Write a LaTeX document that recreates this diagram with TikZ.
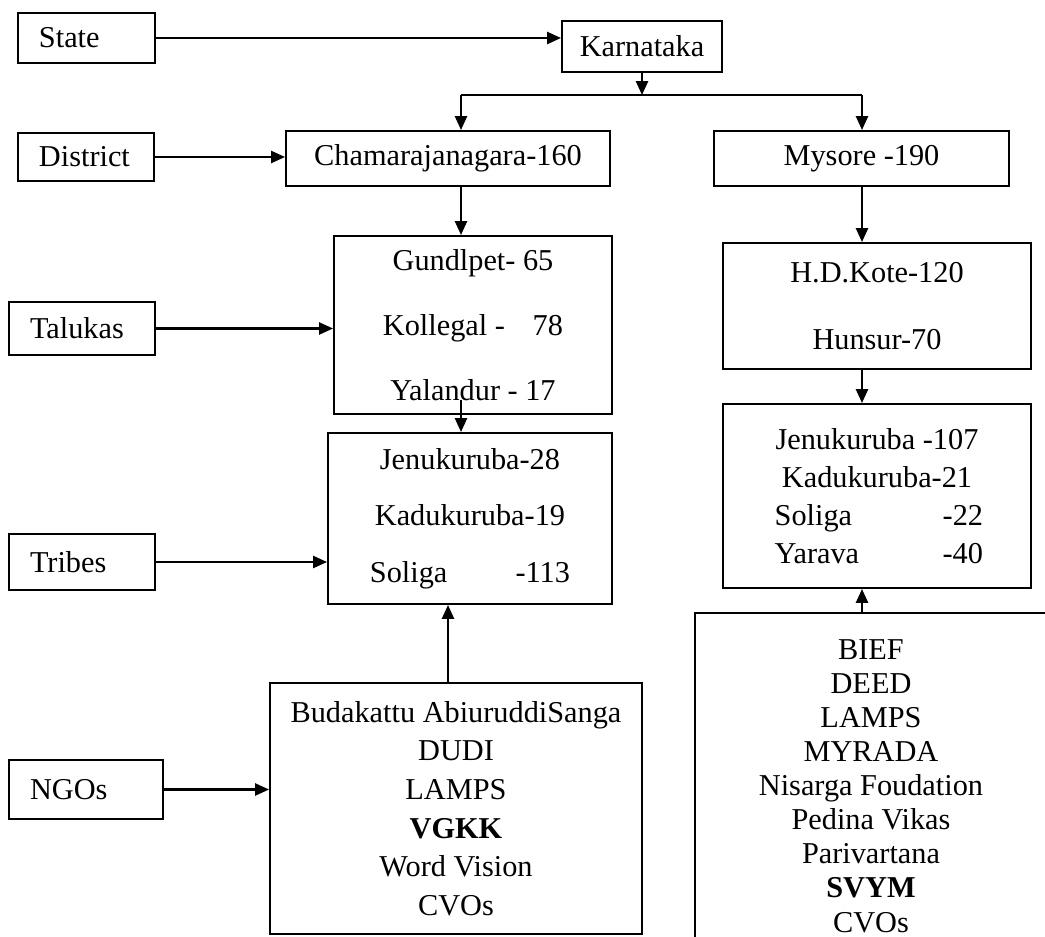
\documentclass[tikz,border=0pt]{standalone}
\usepackage{fontspec}
\setmainfont{Liberation Serif}
\usetikzlibrary{arrows.meta}
\usetikzlibrary{positioning}
\newcommand{\pxw}{0.396pt}
\tikzset{
    blk/.style 2 args={
           rectangle,
           draw=black,
           minimum width=#1*\pxw,
           minimum height=#2*\pxw,
           inner sep=0pt,
           align=center,
           font=\fontsize{12}{13.5}\selectfont,
           },
    lbl/.style 2 args={
           blk={#1}{#2},
           inner xsep=21*\pxw,
           text width=#1*\pxw-42*\pxw,
           align=left,
           },
    spread/.style={font=\fontsize{12}{#1}\selectfont},
    arr/.style={-{Triangle[length=5.5pt,width=4.8pt]}},
}
\begin{document}
\begin{tikzpicture}[x=\pxw,y=-\pxw,line width=0.8pt]
      \clip (0,0) rectangle (1045,937);
      % levels on the left
      \node[lbl={137}{50}] (l_state) at (86.5,38)  {State};
      \node[lbl={136}{48}] (l_dist)  at (86,157)   {District};
      \node[lbl={146}{53}] (l_tal)   at (82,328.5) {Talukas};
      \node[lbl={146}{56}] (l_tri)   at (82,562)   {Tribes};
      \node[lbl={154}{59}] (l_ngo)   at (86,789.5) {NGOs};
      % tree
      \node[blk={160}{51}] (k)    at (642,46.5)  {Karnataka};
      \node[blk={324}{55}] (d_ch) at (448,158.5) {Chamarajanagara-160};
      \node[blk={295}{55}] (d_my) at (861.5,158.5) {Mysore -190};
      \node[blk={278}{178},spread=25.7pt] (t_ch) at (473,325)
            {Gundlpet- 65\\Kollegal - \hspace{8pt}78\\Yalandur - 17};
      \node[blk={308}{126},spread=26.5pt] (t_my) at (877,306)
            {H.D.Kote-120\\Hunsur-70};
      \node[blk={284}{171},spread=22.4pt] (tr_ch) at (470,518.5)
            {Jenukuruba-28\\Kadukuruba-19\\Soliga\hspace{27pt}-113};
      \node[blk={308}{184},spread=15pt] (tr_my) at (877,496)
            {Jenukuruba -107\\Kadukuruba-21\\
             \makebox[81pt][l]{\makebox[66.5pt][l]{Soliga}-22}\\
             \makebox[81pt][l]{\makebox[66.5pt][l]{Yarava}-40}};
      \node[blk={372}{251},spread=15.3pt] (n_ch) at (456,808.5)
            {Budakattu AbiuruddiSanga\\DUDI\\LAMPS\\\textbf{VGKK}\\Word Vision\\CVOs};
      \node[blk={352}{346},spread=13.5pt] (n_my) at (871,786)
            {BIEF\\DEED\\LAMPS\\MYRADA\\Nisarga Foudation\\Pedina Vikas\\Parivartana\\\textbf{SVYM}\\CVOs};
      \coordinate (b_l) at (461,95);
      \coordinate (b_r) at (862,95);
      \coordinate (yal) at (461,400);
      % connectors
      \draw[arr] (l_state.east) -- (l_state.east -| k.west);
      \draw[arr] (l_dist.east) -- (l_dist.east -| d_ch.west);
      \draw[arr] (l_tal.east) -- (l_tal.east -| t_ch.west);
      \draw[arr] (l_tri.east) -- (l_tri.east -| tr_ch.west);
      \draw[arr] (l_ngo.east) -- (l_ngo.east -| n_ch.west);
      \draw[arr] (k.south) -- (k.south |- b_l);
      \draw (b_l) -- (b_r);
      \draw[arr] (b_l) -- (b_l |- d_ch.north);
      \draw[arr] (b_r) -- (b_r |- d_my.north);
      \draw[arr] (d_ch.south -| b_l) -- (t_ch.north -| b_l);
      \draw[arr] (yal) -- (yal |- tr_ch.north);
      \draw[arr] (n_ch.north -| d_ch.south) -- (tr_ch.south -| d_ch.south);
      \draw[arr] (d_my.south -| b_r) -- (t_my.north -| b_r);
      \draw[arr] (t_my.south -| b_r) -- (tr_my.north -| b_r);
      \draw[arr] (n_my.north -| b_r) -- (tr_my.south -| b_r);
\end{tikzpicture}
\end{document}
